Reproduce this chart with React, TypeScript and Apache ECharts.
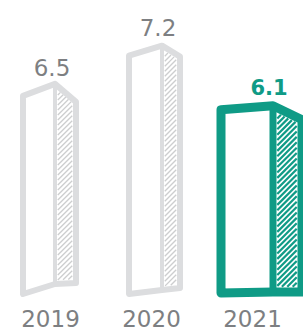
import React, { useEffect, useRef } from 'react';
import * as echarts from 'echarts';

// ---- data ----
const categories = ['2019', '2020', '2021'];
const values = [6.5, 7.2, 6.1];
const highlighted = [false, false, true];

// ---- axis range ----
const Y_MIN = 2.65;
const Y_MAX = 8;

// ---- styles ----
const GRAY = '#dcdddf';
const GRAY_HATCH = '#cdcecf';
const TEAL = '#0f9b86';
const TEXT_GRAY = '#7d7f82';
const FONT = '"DejaVu Sans", sans-serif';

// sketchy shape offsets (px) relative to category centre / bar top / base
const shapes = [
  { l: -27.5, d: 4.5, r: 25.5, tl: 12, tr: 18, bl: 0, bd: -10, br: -11, lx: 1.5, ly: -16 },
  { l: -22.5, d: 10.5, r: 28.5, tl: 10, tr: 11, bl: 0, bd: -4, br: -6, lx: 6.5, ly: -18 },
  { l: -31.5, d: 20.5, r: 49.5, tl: 4, tr: 14, bl: -1, bd: -2, br: -2, lx: 16.5, ly: -18 },
];

function applyConstraint(range: number[], p: number, q: number) {
  // p + q x >= 0
  if (Math.abs(q) < 1e-9) {
    if (p < 0) { range[0] = 1; range[1] = 0; }
    return;
  }
  const x0 = -p / q;
  if (q > 0) range[0] = Math.max(range[0], x0);
  else range[1] = Math.min(range[1], x0);
}

function renderItem(params: any, api: any) {
  const idx = api.value(0);
  const v = api.value(1);
  const pt = api.coord([idx, v]);
  const cx = pt[0];
  const top = pt[1];
  const base = api.coord([idx, Y_MIN])[1];
  const s = shapes[idx];
  const hl = highlighted[idx];
  const color = hl ? TEAL : GRAY;
  const hatchColor = hl ? TEAL : GRAY_HATCH;
  const w = hl ? 9 : 6;
  const wd = hl ? 7 : 4;
  const hw = hl ? 2.2 : 1.3;
  const step = hl ? 5.4 : 5;

  const L = cx + s.l;
  const D = cx + s.d;
  const R = cx + s.r;
  const topL = top + s.tl;
  const topR = top + s.tr;
  const botL = base + s.bl;
  const botD = base + s.bd;
  const botR = base + s.br;

  const children: any[] = [];
  // front face fill
  children.push({
    type: 'polygon',
    shape: { points: [[L, topL], [D, top], [D, botD], [L, botL]] },
    style: { fill: '#ffffff' },
  });
  // hatch on side face
  const pad = 0.8;
  const xa = D + wd / 2 + pad;
  const xb = R - w / 2 - pad;
  const t1 = (topR - top) / (R - D);
  const t0 = top + w / 2 + pad - t1 * D;
  const b1 = (botR - botD) / (R - D);
  const b0 = botD - w / 2 - pad - b1 * D;
  const cStart = xa + Math.min(t0 + t1 * xa, t0 + t1 * xb);
  const cEnd = xb + Math.max(b0 + b1 * xa, b0 + b1 * xb);
  for (let c = cStart; c <= cEnd; c += step) {
    const range = [xa, xb];
    applyConstraint(range, c - t0, -1 - t1);
    applyConstraint(range, b0 - c, b1 + 1);
    if (range[1] > range[0] + 0.3) {
      children.push({
        type: 'line',
        shape: { x1: range[0], y1: c - range[0], x2: range[1], y2: c - range[1] },
        style: { stroke: hatchColor, lineWidth: hw, lineCap: 'butt' },
      });
    }
  }
  // outline
  children.push({
    type: 'polygon',
    shape: { points: [[L, topL], [D, top], [R, topR], [R, botR], [D, botD], [L, botL]] },
    style: { fill: 'none', stroke: color, lineWidth: w, lineJoin: 'round' },
  });
  // divider
  children.push({
    type: 'line',
    shape: { x1: D, y1: top, x2: D, y2: botD },
    style: { stroke: color, lineWidth: wd, lineCap: 'round' },
  });
  // value label
  children.push({
    type: 'text',
    style: {
      text: String(v),
      x: cx + s.lx,
      y: top + s.ly,
      align: 'center',
      verticalAlign: 'middle',
      fill: hl ? TEAL : TEXT_GRAY,
      font: (hl ? 'bold 21px ' : '23px ') + FONT,
    },
  });
  return { type: 'group', children };
}

export default function App() {
  const ref = useRef<HTMLDivElement>(null);
  useEffect(() => {
    if (!ref.current) return;
    const chart = echarts.init(ref.current, undefined, { renderer: 'svg' });
    chart.setOption({
      animation: false,
      grid: { left: 0, right: 0, top: 2, bottom: 38 },
      xAxis: {
        type: 'category',
        data: categories,
        axisLine: { show: false },
        axisTick: { show: false },
        axisLabel: { fontSize: 23, color: TEXT_GRAY, margin: 13, fontFamily: FONT },
      },
      yAxis: { type: 'value', min: Y_MIN, max: Y_MAX, show: false },
      series: [
        {
          type: 'custom',
          renderItem,
          clip: false,
          encode: { x: 0, y: 1 },
          data: values.map((v, i) => [i, v]),
        },
      ],
    });
    return () => chart.dispose();
  }, []);
  return (
    <div
      ref={ref}
      style={{ position: 'absolute', left: 0, top: 0, width: 303, height: 332, background: '#fff' }}
    />
  );
}
